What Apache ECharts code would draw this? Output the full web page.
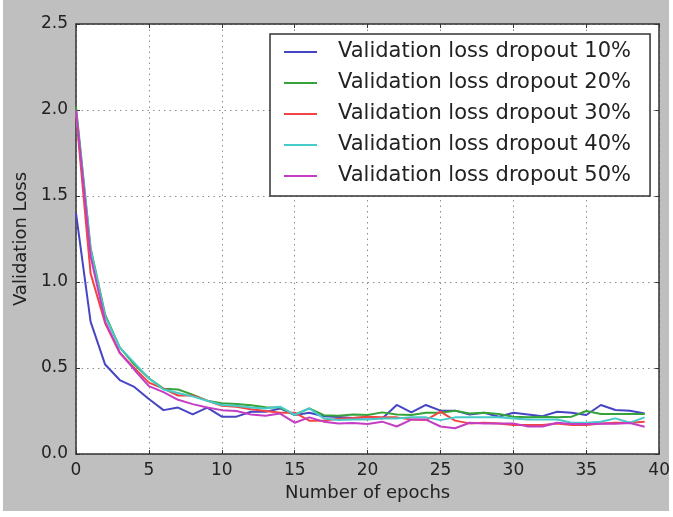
<!DOCTYPE html>
<html>
<head>
<meta charset="utf-8">
<script src="https://cdn.jsdelivr.net/npm/echarts@6/dist/echarts.min.js"></script>
<style>
  html, body { margin: 0; padding: 0; background: #ffffff; }
  #frame { position: absolute; left: 3px; top: 0; width: 666px; height: 511px; background: #bfbfbf; }
  #chart { position: absolute; left: 0; top: 0; width: 673px; height: 517px; }
</style>
</head>
<body>
<div id="frame"></div>
<div id="chart"></div>
<script>
// Epoch index for every point
const epochs = Array.from({ length: 40 }, (_, i) => i);

// Validation loss per epoch for each dropout rate
const loss10 = [1.40, 0.77, 0.52, 0.43, 0.39, 0.32, 0.255, 0.27, 0.23, 0.27,
  0.217, 0.217, 0.246, 0.245, 0.265, 0.226, 0.24, 0.22, 0.215, 0.21,
  0.213, 0.207, 0.285, 0.242, 0.285, 0.252, 0.252, 0.23, 0.24, 0.217,
  0.24, 0.23, 0.22, 0.246, 0.24, 0.227, 0.285, 0.256, 0.252, 0.236];
const loss20 = [2.02, 1.20, 0.81, 0.62, 0.52, 0.44, 0.38, 0.375, 0.345, 0.31,
  0.295, 0.29, 0.283, 0.272, 0.27, 0.228, 0.265, 0.226, 0.222, 0.23,
  0.227, 0.242, 0.23, 0.227, 0.24, 0.24, 0.252, 0.236, 0.24, 0.232,
  0.217, 0.213, 0.217, 0.213, 0.217, 0.25, 0.232, 0.232, 0.232, 0.232];
const loss30 = [1.98, 1.05, 0.76, 0.587, 0.50, 0.415, 0.38, 0.34, 0.34, 0.31,
  0.28, 0.275, 0.26, 0.25, 0.24, 0.24, 0.194, 0.194, 0.205, 0.21,
  0.217, 0.213, 0.213, 0.20, 0.197, 0.246, 0.194, 0.178, 0.182, 0.178,
  0.168, 0.168, 0.168, 0.178, 0.168, 0.168, 0.178, 0.182, 0.182, 0.188];
const loss40 = [2.00, 1.19, 0.80, 0.62, 0.53, 0.44, 0.375, 0.355, 0.335, 0.31,
  0.285, 0.28, 0.27, 0.265, 0.275, 0.228, 0.265, 0.207, 0.198, 0.20,
  0.20, 0.207, 0.207, 0.213, 0.213, 0.197, 0.213, 0.213, 0.213, 0.213,
  0.207, 0.20, 0.20, 0.20, 0.182, 0.182, 0.188, 0.207, 0.182, 0.213];
const loss50 = [2.00, 1.15, 0.77, 0.59, 0.49, 0.395, 0.36, 0.315, 0.29, 0.27,
  0.255, 0.25, 0.23, 0.222, 0.235, 0.182, 0.213, 0.188, 0.178, 0.18,
  0.174, 0.188, 0.16, 0.20, 0.20, 0.16, 0.15, 0.182, 0.178, 0.178,
  0.178, 0.16, 0.16, 0.182, 0.174, 0.174, 0.176, 0.176, 0.18, 0.158];

const seriesNames = [
  'Validation loss dropout 10%',
  'Validation loss dropout 20%',
  'Validation loss dropout 30%',
  'Validation loss dropout 40%',
  'Validation loss dropout 50%'
];
const seriesValues = [loss10, loss20, loss30, loss40, loss50];
const seriesColors = ['#4646c4', '#36a23a', '#f24444', '#46caca', '#c43ec4'];

const FONT = 'DejaVu Sans';
const TEXT = '#222222';
const FRAME = '#333333';

const chart = echarts.init(document.getElementById('chart'), null, { renderer: 'canvas' });

const dotted = { color: '#8c8c8c', width: 1, type: [1.5, 4] };

const option = {
  backgroundColor: 'transparent',
  animation: false,
  grid: {
    left: 76, right: 11, top: 24, bottom: 63, containLabel: false,
    show: true, backgroundColor: '#ffffff', borderWidth: 0
  },
  legend: {
    orient: 'vertical',
    left: 270,
    top: 34,
    padding: [7, 19, 9, 14],
    itemGap: 9,
    itemWidth: 33,
    itemHeight: 2,
    icon: 'rect',
    backgroundColor: '#ffffff',
    borderColor: FRAME,
    borderWidth: 1.5,
    borderRadius: 0,
    textStyle: { fontFamily: FONT, fontSize: 21, color: TEXT, lineHeight: 22, padding: [0, 0, 0, 16] },
    data: seriesNames
  },
  xAxis: [
    {
      type: 'value', min: 0, max: 40, interval: 5,
      name: 'Number of epochs', nameLocation: 'middle', nameGap: 30,
      nameTextStyle: { fontFamily: FONT, fontSize: 18, color: TEXT },
      axisLine: { show: true, onZero: false, lineStyle: { color: FRAME, width: 1.5 } },
      axisTick: { show: true, inside: true, length: 4, lineStyle: { color: FRAME } },
      axisLabel: { fontFamily: FONT, fontSize: 17, color: TEXT, margin: 8 },
      splitLine: { show: true, lineStyle: dotted }
    },
    {
      type: 'value', min: 0, max: 40, interval: 5, position: 'top',
      axisLine: { show: true, onZero: false, lineStyle: { color: FRAME, width: 1.5 } },
      axisTick: { show: true, inside: true, length: 4, lineStyle: { color: FRAME } },
      axisLabel: { show: false },
      splitLine: { show: false }
    }
  ],
  yAxis: [
    {
      type: 'value', min: 0, max: 2.5, interval: 0.5,
      name: 'Validation Loss', nameLocation: 'middle', nameGap: 46,
      nameTextStyle: { fontFamily: FONT, fontSize: 18, color: TEXT },
      axisLine: { show: true, onZero: false, lineStyle: { color: FRAME, width: 1.5 } },
      axisTick: { show: true, inside: true, length: 4, lineStyle: { color: FRAME } },
      axisLabel: { fontFamily: FONT, fontSize: 17, color: TEXT, margin: 8,
        formatter: v => v.toFixed(1) },
      splitLine: { show: true, lineStyle: dotted }
    },
    {
      type: 'value', min: 0, max: 2.5, interval: 0.5, position: 'right',
      axisLine: { show: true, onZero: false, lineStyle: { color: FRAME, width: 1.5 } },
      axisTick: { show: true, inside: true, length: 4, lineStyle: { color: FRAME } },
      axisLabel: { show: false },
      splitLine: { show: false }
    }
  ],
  series: seriesNames.map((name, k) => ({
    name,
    type: 'line',
    xAxisIndex: 0,
    yAxisIndex: 0,
    showSymbol: false,
    symbol: 'none',
    color: seriesColors[k],
    lineStyle: { width: 2, color: seriesColors[k] },
    data: epochs.map(e => [e, seriesValues[k][e]])
  }))
};

chart.setOption(option);
</script>
</body>
</html>
